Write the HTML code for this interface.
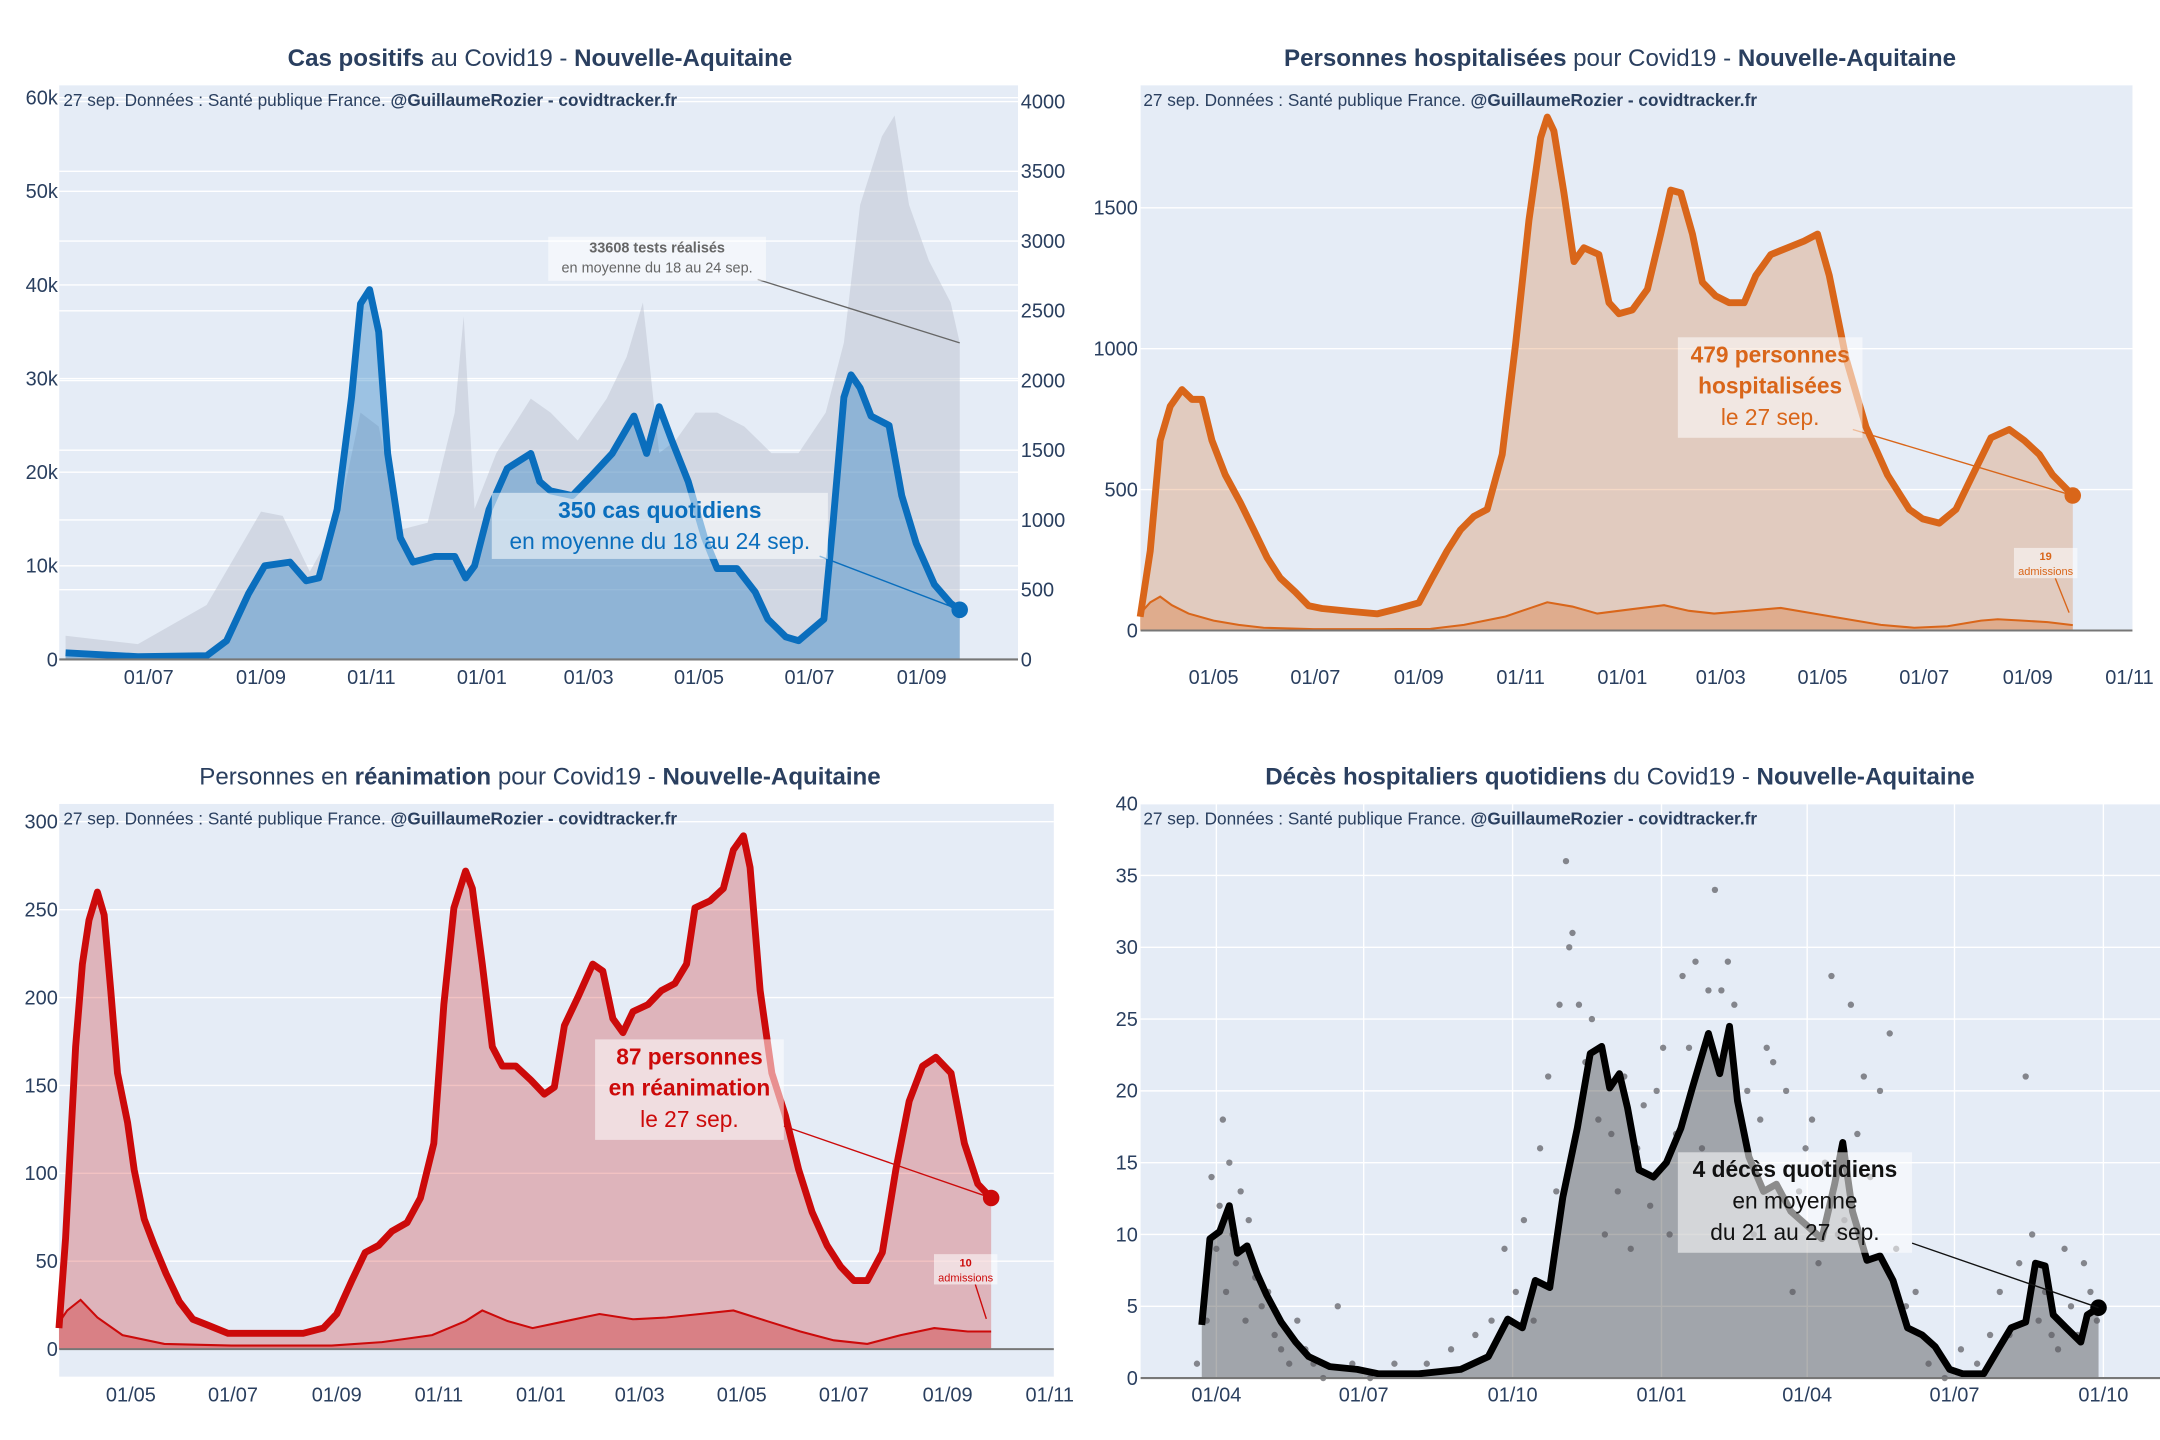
<!DOCTYPE html>
<html><head><meta charset="utf-8"><style>
html,body{margin:0;padding:0;background:#fff;}
svg{display:block;font-family:"Liberation Sans",sans-serif;}
</style></head><body>
<svg id="root" width="2160" height="1440" viewBox="0 0 1568 1046" preserveAspectRatio="none" xmlns="http://www.w3.org/2000/svg"></svg>
<script>
// ---------- Panel 1: cas positifs (days since 2020-07-01) ----------
const caseDays=[-46,-6,32,43,55,64,78,87,94,104,112,117,122,127,132,139,146,158,169,175,180,188,198,211,216,222,234,245,256,268,275,282,289,298,307,314,325,335,342,352,359,373,378,384,388,393,399,409,416,424,434,443,448];
const caseVals=[700,300,400,2000,7000,10000,10400,8400,8700,16000,28000,38000,39500,35000,22000,13000,10400,11000,11000,8700,10000,16000,20400,22000,19000,18000,17500,19700,22000,26000,22000,27000,23400,19000,13000,9700,9700,7200,4300,2400,2000,4300,14500,28000,30400,29000,26000,25000,17500,12400,8000,6000,5300];
const testDays=[-46,-6,32,62,74,89,104,117,127,139,154,169,174,180,192,211,222,237,253,264,273,282,291,302,314,329,344,359,374,384,393,405,412,420,431,443,448];
const testVals=[170,110,390,1060,1030,630,980,1770,1670,930,980,1770,2460,1080,1480,1870,1770,1570,1870,2170,2560,1480,1570,1770,1770,1670,1480,1480,1770,2270,3260,3750,3900,3260,2860,2560,2270];
const p1LeftTicks=[0,10000,20000,30000,40000,50000,60000];
const p1LeftLabels=["0","10k","20k","30k","40k","50k","60k"];
const p1RightTicks=[0,500,1000,1500,2000,2500,3000,3500,4000];
const p1XTicks=[0,62,123,184,243,304,365,427];
const p1XLabels=["01/07","01/09","01/11","01/01","01/03","01/05","01/07","01/09"];

// ---------- Panel 2: hospitalisations (days since 2020-05-01) ----------
const hospDays=[-44,-38,-32,-26,-19,-13,-7,-1,7,16,24,32,40,49,57,65,82,98,111,123,131,140,148,156,164,173,181,189,196,200,204,210,216,222,231,237,243,251,260,268,274,280,287,293,301,309,318,325,334,344,354,362,369,379,391,404,417,425,435,445,455,466,477,486,495,503,515];
const hospVals=[49,283,674,796,855,820,820,674,552,454,357,259,186,137,88,78,68,59,78,98,186,283,357,405,430,625,1016,1456,1749,1822,1773,1553,1309,1358,1334,1163,1124,1138,1211,1407,1563,1553,1407,1236,1187,1163,1163,1260,1334,1358,1382,1407,1260,967,723,552,430,396,381,430,552,684,713,674,625,552,479];
const hospAdmDays=[-44,-38,-32,-25,-15,0,15,30,60,100,130,150,175,190,200,215,230,250,270,285,300,320,340,360,380,400,420,440,460,470,485,500,515];
const hospAdmVals=[60,100,120,90,60,35,20,10,5,5,6,20,50,80,100,85,60,75,90,70,60,70,80,60,40,20,10,15,35,40,35,30,19];
const p2YTicks=[0,500,1000,1500];
const p2XTicks=[0,61,123,184,245,304,365,426,488,549];
const p2XLabels=["01/05","01/07","01/09","01/11","01/01","01/03","01/05","01/07","01/09","01/11"];

// ---------- Panel 3: réanimation (days since 2020-05-01) ----------
const reaDays=[-43,-39,-33,-29,-25,-20,-16,-12,-8,-2,2,8,14,21,29,37,45,58,70,86,103,115,123,132,140,148,156,165,173,181,187,193,200,204,210,216,222,230,239,247,253,259,267,276,282,288,294,300,309,317,325,332,337,346,354,360,366,370,376,383,391,399,407,416,424,432,440,449,457,465,473,481,490,498,506,514];
const reaVals=[12,63,172,219,244,260,247,204,157,129,102,74,59,43,27,17,14,9,9,9,9,12,20,39,55,59,67,72,86,117,196,251,272,262,219,172,161,161,153,145,149,184,200,219,215,188,180,192,196,204,208,219,251,255,262,284,292,274,204,157,133,102,78,59,47,39,39,55,102,141,161,166,157,117,94,86];
const reaAdmDays=[-43,-38,-30,-20,-5,20,60,120,150,180,200,210,225,240,260,280,300,320,340,360,380,400,420,440,460,480,500,514];
const reaAdmVals=[15,22,28,18,8,3,2,2,4,8,16,22,16,12,16,20,17,18,20,22,16,10,5,3,8,12,10,10];
const p3YTicks=[0,50,100,150,200,250,300];
const p3XTicks=[0,61,123,184,245,304,365,426,488,549];
const p3XLabels=["01/05","01/07","01/09","01/11","01/01","01/03","01/05","01/07","01/09","01/11"];

// ---------- Panel 4: décès (days since 2020-04-01) ----------
const deathDays=[-9,-4,2,8,13,19,25,31,40,49,57,70,87,100,125,151,168,180,189,197,206,214,223,231,238,243,249,254,261,270,278,287,294,304,311,317,322,329,338,346,355,365,374,382,387,393,402,410,418,427,436,444,453,461,474,483,491,500,506,512,517,525,534,538,545];
const deathVals=[3.7,9.7,10.2,12,8.7,9.2,7.3,5.8,3.9,2.5,1.5,0.8,0.6,0.3,0.3,0.6,1.5,4.1,3.5,6.8,6.3,12.6,17.4,22.6,23.1,20.2,21.2,18.8,14.5,14,15,17.4,20.2,24,21.2,24.5,19.3,15.4,13,13.5,11.6,10.6,9.7,13.5,16.4,11.6,8.2,8.5,6.8,3.5,3,2.2,0.6,0.3,0.3,2,3.5,3.9,8,7.8,4.4,3.5,2.5,4.4,4.9];
const dotDays=[-12,-6,-3,0,2,4,6,8,10,12,15,18,20,24,28,32,36,40,45,50,55,60,66,75,84,95,110,130,145,160,170,178,185,190,196,200,205,210,212,216,218,220,224,228,232,236,240,244,248,252,256,260,264,268,272,276,280,284,288,292,296,300,304,308,312,316,320,324,328,332,336,340,344,348,352,356,360,364,368,372,376,380,384,388,392,396,400,404,410,416,420,426,432,440,450,460,470,478,484,490,496,500,504,508,512,516,520,524,528,532,536,540,544];
const dotVals=[1,4,14,9,12,18,6,15,10,8,13,4,11,7,5,6,3,2,1,4,2,1,0,5,1,0,1,1,2,3,4,9,6,11,4,16,21,13,26,36,30,31,26,22,25,18,10,17,13,21,9,16,19,12,20,23,10,17,28,23,29,16,27,34,27,29,26,12,20,10,18,23,22,13,20,6,13,16,18,8,15,28,10,11,26,17,21,14,20,24,9,5,6,1,0,2,1,3,6,3,8,21,10,4,6,3,2,9,5,3,8,6,4,8,7];
const p4YTicks=[0,5,10,15,20,25,30,35,40];
const p4XTicks=[0,91,183,275,365,456,548];
const p4XLabels=["01/04","01/07","01/10","01/01","01/04","01/07","01/10"];

const NS="http://www.w3.org/2000/svg";
const root=document.getElementById('root');
function mk(tag,attrs,parent){const e=document.createElementNS(NS,tag);for(const k in attrs)e.setAttribute(k,attrs[k]);(parent||root).appendChild(e);return e;}
function group(name){const g=document.createElementNS(NS,'g');


root.appendChild(g);return g;}
const TC="#2a3f5f";

function linePath(days,vals,xs,ys){return days.map((d,i)=>(i?'L':'M')+xs(d).toFixed(1)+','+ys(vals[i]).toFixed(1)).join(' ');}
function areaPath(days,vals,xs,ys,y0){return linePath(days,vals,xs,ys)+' L'+xs(days[days.length-1]).toFixed(1)+','+y0+' L'+xs(days[0]).toFixed(1)+','+y0+' Z';}

function frame(g,name,x0,x1,yTop,yBot){
  const r=mk('rect',{x:x0,y:yTop,width:x1-x0,height:yBot-yTop,fill:'#e5ecf6'},g);
  
  
}
function hgrid(g,name,ticks,labels,ys,x0,x1,lx,anchor){
  ticks.forEach((t,i)=>{
    const y=ys(t);
    const l=mk('line',{x1:x0,x2:x1,y1:y,y2:y,stroke:'#fff','stroke-width':1},g);
    
    
    const tx=mk('text',{x:lx,y:y+5,'font-size':14.5,fill:TC,'text-anchor':anchor},g);
    tx.textContent=labels?labels[i]:String(t);
    
    
  });
}
function xticks(g,name,ticks,labels,xs,y,vgrid,yTop,yBot){
  ticks.forEach((t,i)=>{
    const x=xs(t);
    if(vgrid){const l=mk('line',{x1:x,x2:x,y1:yTop,y2:yBot,stroke:'#fff','stroke-width':1},g);
      
      }
    const tx=mk('text',{x:x,y:y,'font-size':14.5,fill:TC,'text-anchor':'middle'},g);
    tx.textContent=labels[i];
    
    
  });
}
function title(g,cx,y,parts){
  const t=mk('text',{x:cx,y:y,'font-size':17.5,fill:TC,'text-anchor':'middle'},g);
  
  
  parts.forEach(p=>{const s=mk('tspan',{'font-weight':p[1]?'bold':'normal'},t);s.textContent=p[0];});
}
function source(g,x,y){
  const t=mk('text',{x:x,y:y,'font-size':12.5,fill:TC},g);
  
  
  const a=mk('tspan',{},t);a.textContent='27 sep. Données : Santé publique France. ';
  const b=mk('tspan',{'font-weight':'bold'},t);b.textContent='@GuillaumeRozier - covidtracker.fr';
}
function annot(g,name,bx,by,bw,bh,lines,color,size,lx1,ly1,lx2,ly2){
  const l=mk('line',{x1:lx1,y1:ly1,x2:lx2,y2:ly2,stroke:color,'stroke-width':1},g);
  
  
  const r=mk('rect',{x:bx,y:by,width:bw,height:bh,fill:'rgba(255,255,255,0.55)'},g);
  
  
  lines.forEach((ln,i)=>{
    const t=mk('text',{x:bx+bw/2,y:by+size*1.1+i*size*1.38,'font-size':size,fill:color,'text-anchor':'middle','font-weight':ln[1]?'bold':'normal'},g);
    t.textContent=ln[0];
    
    
  });
}

// ===== Panel 1 =====
(function(){
  const g=group('cases-panel');
  const x0=43,x1=739,yTop=62,yBot=479;
  const xs=d=>108+d*1.314;
  const ysL=v=>479-v*0.0068;
  const ysR=v=>479-v*0.1013;
  frame(g,'cases',x0,x1,yTop,yBot);
  hgrid(g,'cases-right-axis',p1RightTicks,null,ysR,x0,x1,741,'start');
  hgrid(g,'cases-left-axis',p1LeftTicks,p1LeftLabels,ysL,x0,x1,42,'end');
  const ta=mk('path',{d:areaPath(testDays,testVals,xs,ysR,yBot),fill:'rgba(185,190,205,0.45)'},g);
  
  
  const ca=mk('path',{d:areaPath(caseDays,caseVals,xs,ysL,yBot),fill:'rgba(10,110,189,0.33)'},g);
  
  
  const cl=mk('path',{d:linePath(caseDays,caseVals,xs,ysL),fill:'none',stroke:'#0a6ebd','stroke-width':5,'stroke-linejoin':'round'},g);
  
  
  const ax=mk('line',{x1:x0,x2:x1,y1:yBot,y2:yBot,stroke:'#777','stroke-width':1.5},g);
  
  
  const lastD=caseDays[caseDays.length-1],lastV=caseVals[caseVals.length-1];
  const m=mk('circle',{cx:xs(lastD),cy:ysL(lastV),r:6,fill:'#0a6ebd'},g);
  
  
  const lt=testDays[testDays.length-1],ltv=testVals[testVals.length-1];
  annot(g,'tests-annotation',398,172,158,32,[['33608 tests réalisés',1],['en moyenne du 18 au 24 sep.',0]],'#666',10.5,550,203,xs(lt),ysR(ltv));
  annot(g,'cases-annotation',357,358,244,48,[['350 cas quotidiens',1],['en moyenne du 18 au 24 sep.',0]],'#0a6ebd',16.5,595,404,xs(lastD),ysL(lastV));
  xticks(g,'cases',p1XTicks,p1XLabels,xs,497,false);
  title(g,392,48,[['Cas positifs',1],[' au Covid19 - ',0],['Nouvelle-Aquitaine',1]]);
  source(g,46,77);
})();

// ===== Panel 2 =====
(function(){
  const g=group('hospital-panel');
  const x0=828,x1=1548,yTop=62,yBot=458;
  const xs=d=>881+d*1.211;
  const ys=v=>458-v*0.2047;
  frame(g,'hosp',x0,x1,yTop,yBot);
  hgrid(g,'hosp-y-axis',p2YTicks,null,ys,x0,x1,826,'end');
  const ha=mk('path',{d:areaPath(hospDays,hospVals,xs,ys,yBot),fill:'rgba(217,102,26,0.25)'},g);
  
  
  const aa=mk('path',{d:areaPath(hospAdmDays,hospAdmVals,xs,ys,yBot),fill:'rgba(217,102,26,0.3)'},g);
  
  
  const al=mk('path',{d:linePath(hospAdmDays,hospAdmVals,xs,ys),fill:'none',stroke:'#d9661a','stroke-width':1.5},g);
  
  
  const hl=mk('path',{d:linePath(hospDays,hospVals,xs,ys),fill:'none',stroke:'#d9661a','stroke-width':5,'stroke-linejoin':'round'},g);
  
  
  const ax=mk('line',{x1:x0,x2:x1,y1:yBot,y2:yBot,stroke:'#777','stroke-width':1.5},g);
  
  
  const lastD=hospDays[hospDays.length-1],lastV=hospVals[hospVals.length-1];
  const m=mk('circle',{cx:xs(lastD),cy:ys(lastV),r:6,fill:'#d9661a'},g);
  
  
  annot(g,'hosp-annotation',1218,245,134,73,[['479 personnes',1],['hospitalisées',1],['le 27 sep.',0]],'#d9661a',16.5,1345,312,xs(lastD),ys(lastV));
  annot(g,'hosp-adm-annotation',1462,398,46,22,[['19',1],['admissions',0]],'#d9661a',8,1492,420,1502,445);
  xticks(g,'hosp',p2XTicks,p2XLabels,xs,497,false);
  title(g,1176,48,[['Personnes hospitalisées',1],[' pour Covid19 - ',0],['Nouvelle-Aquitaine',1]]);
  source(g,830,77);
})();

// ===== Panel 3 =====
(function(){
  const g=group('icu-panel');
  const x0=43,x1=765,yTop=584,yBot=1000;
  const xs=d=>95+d*1.215;
  const ys=v=>980-v*1.277;
  frame(g,'icu',x0,x1,yTop,yBot);
  hgrid(g,'icu-y-axis',p3YTicks,null,ys,x0,x1,42,'end');
  const ra=mk('path',{d:areaPath(reaDays,reaVals,xs,ys,980),fill:'rgba(204,10,10,0.25)'},g);
  
  
  const aa=mk('path',{d:areaPath(reaAdmDays,reaAdmVals,xs,ys,980),fill:'rgba(204,10,10,0.3)'},g);
  
  
  const al=mk('path',{d:linePath(reaAdmDays,reaAdmVals,xs,ys),fill:'none',stroke:'#cc0a0a','stroke-width':1.5},g);
  
  
  const rl=mk('path',{d:linePath(reaDays,reaVals,xs,ys),fill:'none',stroke:'#cc0a0a','stroke-width':5,'stroke-linejoin':'round'},g);
  
  
  const ax=mk('line',{x1:x0,x2:x1,y1:980,y2:980,stroke:'#777','stroke-width':1.5},g);
  
  
  const lastD=reaDays[reaDays.length-1],lastV=reaVals[reaVals.length-1];
  const m=mk('circle',{cx:xs(lastD),cy:ys(lastV),r:6,fill:'#cc0a0a'},g);
  
  
  annot(g,'icu-annotation',432,755,137,73,[['87 personnes',1],['en réanimation',1],['le 27 sep.',0]],'#cc0a0a',16.5,569,818,xs(lastD),ys(lastV));
  annot(g,'icu-adm-annotation',678,911,46,22,[['10',1],['admissions',0]],'#cc0a0a',8,708,933,716,958);
  xticks(g,'icu',p3XTicks,p3XLabels,xs,1018,false);
  title(g,392,570,[['Personnes en ',0],['réanimation',1],[' pour Covid19 - ',0],['Nouvelle-Aquitaine',1]]);
  source(g,46,599);
})();

// ===== Panel 4 =====
(function(){
  const g=group('deaths-panel');
  const x0=828,x1=1568,yTop=584,yBot=1001;
  const xs=d=>883+d*1.175;
  const ys=v=>1001-v*10.43;
  frame(g,'deaths',x0,x1,yTop,yBot);
  hgrid(g,'deaths-y-axis',p4YTicks,null,ys,x0,x1,826,'end');
  xticks(g,'deaths',p4XTicks,p4XLabels,xs,1018,true,yTop,yBot);
  const da=mk('path',{d:areaPath(deathDays,deathVals,xs,ys,yBot),fill:'rgba(60,60,60,0.4)'},g);
  
  
  dotDays.forEach((d,i)=>{
    const c=mk('circle',{cx:xs(d),cy:ys(dotVals[i]),r:2.3,fill:'rgba(90,90,95,0.7)'},g);
    
    
  });
  const dl=mk('path',{d:linePath(deathDays,deathVals,xs,ys),fill:'none',stroke:'#000','stroke-width':5,'stroke-linejoin':'round'},g);
  
  
  const ax=mk('line',{x1:x0,x2:x1,y1:yBot,y2:yBot,stroke:'#777','stroke-width':1.5},g);
  
  
  const lastD=deathDays[deathDays.length-1],lastV=deathVals[deathVals.length-1];
  const m=mk('circle',{cx:xs(lastD),cy:ys(lastV),r:6,fill:'#000'},g);
  
  
  annot(g,'deaths-annotation',1218,837,170,73,[['4 décès quotidiens',1],['en moyenne',0],['du 21 au 27 sep.',0]],'#111',16.5,1388,903,xs(lastD),ys(lastV));
  title(g,1176,570,[['Décès hospitaliers quotidiens',1],[' du Covid19 - ',0],['Nouvelle-Aquitaine',1]]);
  source(g,830,599);
})();
</script>
</body></html>
